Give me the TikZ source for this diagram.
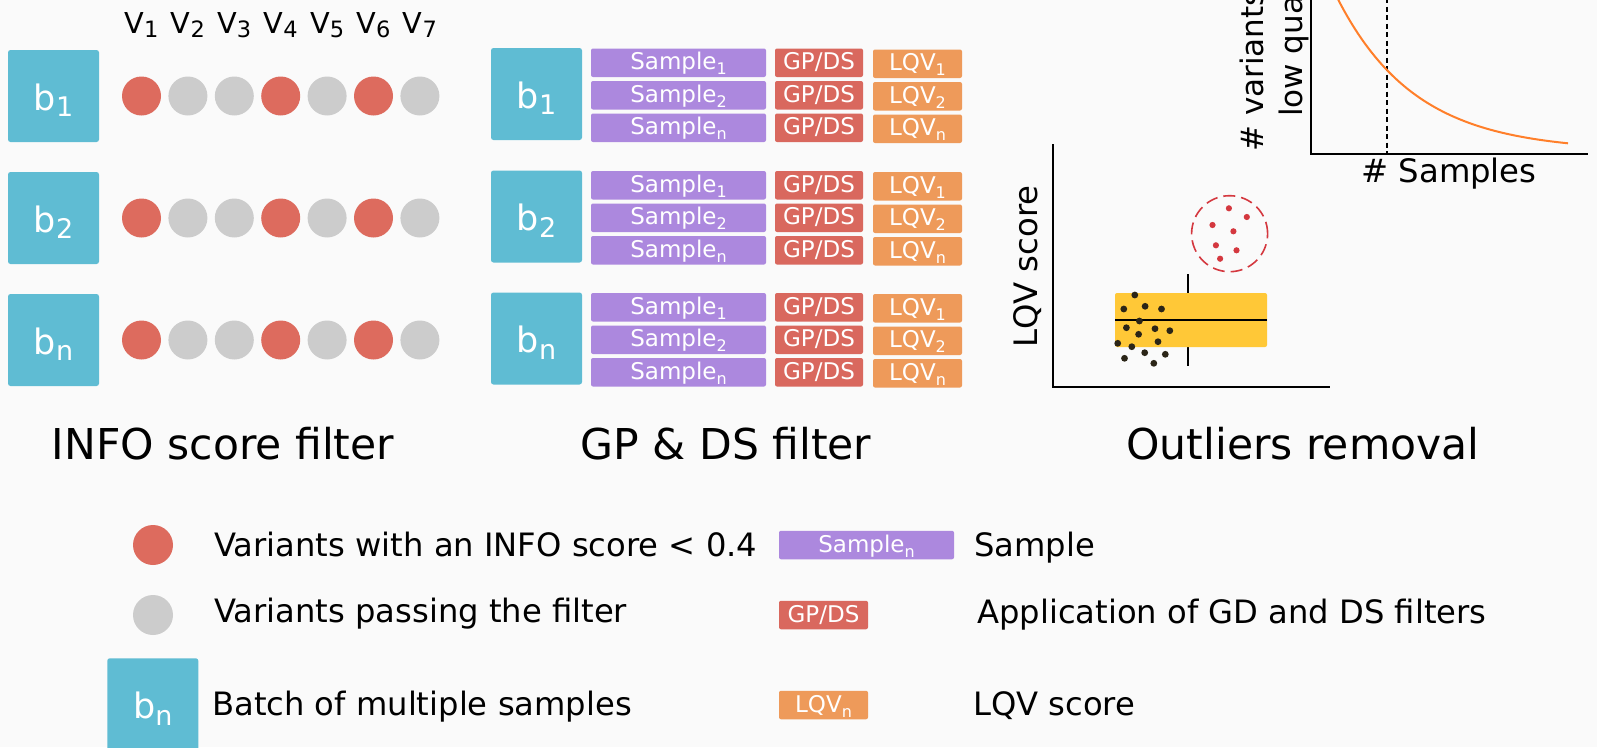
\documentclass[tikz,border=0pt]{standalone}
\usepackage{fontspec}
\setmainfont{DejaVu Sans}
\definecolor{bgcol}{HTML}{FAFAFA}
\definecolor{batchcol}{HTML}{5FBCD3}
\definecolor{redc}{HTML}{DD6B5E}
\definecolor{greyc}{HTML}{CCCCCC}
\definecolor{purp}{HTML}{AC88DE}
\definecolor{gpred}{HTML}{D9685E}
\definecolor{lqvor}{HTML}{EE9A5A}
\definecolor{yel}{HTML}{FFC837}
\definecolor{outred}{HTML}{D4383F}
\definecolor{curveor}{HTML}{FF7F2A}
\definecolor{dotblk}{HTML}{2B2517}
\newcommand\bsub[1]{\raisebox{-6.7pt}{\fontsize{27}{27}\selectfont #1}}
\newcommand\vsub[1]{\raisebox{-4pt}{\fontsize{22.5}{22.5}\selectfont #1}}
\newcommand\ssub[1]{\raisebox{-5pt}{\fontsize{16}{16}\selectfont #1}}
\tikzset{
  batch/.style={fill=batchcol, rounded corners=2.5pt, minimum width=91pt, minimum height=92pt,
    inner sep=0pt, text=white, text height=30pt, text depth=2pt, font=\fontsize{35}{35}\selectfont},
  vdot/.style={circle, minimum size=39pt, inner sep=0pt},
  bar/.style={rounded corners=2pt, minimum height=28.5pt, inner sep=0pt, text=white,
    text height=17pt, text depth=3pt, font=\fontsize{23}{23}\selectfont},
  sampbar/.style={bar, fill=purp, minimum width=175pt},
  gpbar/.style={bar, fill=gpred, minimum width=88pt},
  lqvbar/.style={bar, fill=lqvor, minimum width=89pt},
  vlab/.style={anchor=base, inner sep=0pt, font=\fontsize{28.8}{28.8}\selectfont},
  title/.style={anchor=base, inner sep=0pt, font=\fontsize{42.5}{42.5}\selectfont},
  legtext/.style={anchor=base west, inner sep=0pt, font=\fontsize{32.2}{32.2}\selectfont},
  axlab/.style={inner sep=0pt, font=\fontsize{32.3}{32.3}\selectfont},
  axis/.style={line width=2pt, black},
}
\begin{document}
\begin{tikzpicture}[x=1pt, y=-1pt]
\path[use as bounding box] (0,0) rectangle (1597,747);
\clip (0,0) rectangle (1597,747);
\fill[bgcol] (0,0) rectangle (1597,747);

% ---------- INFO score filter ----------
\foreach \i in {1,...,7}
  \node[vlab] (v\i) at (95.1+46.4*\i, 33.3) {V\vsub{\i}};
\foreach \r/\y in {1/96, 2/218, n/340} {
  \node[batch] (lb\r) at (53.5,\y) {b\bsub{\r}};
  \foreach \i/\c in {1/redc,2/greyc,3/greyc,4/redc,5/greyc,6/redc,7/greyc}
    \node[vdot, fill=\c] (c\r\i) at (95.1+46.4*\i, \y) {};
}
\node[title] (t1) at (223,459.5) {INFO score filter};

% ---------- GP & DS filter ----------
\foreach \r/\g in {1/48.5, 2/171, n/293} {
  \node[batch] (gb\r) at (536.5, \g+45.5) {b\bsub{\r}};
  \foreach \k/\dy in {1/0, 2/32.5, n/65} {
    \node[sampbar] (s\r\k) at (678.5, \g+\dy+14.25) {Sample\ssub{\k}};
    \node[gpbar] (g\r\k) at (819, \g+\dy+14.25) {GP/DS};
    \node[lqvbar] (q\r\k) at (917.5, \g+\dy+15.25) {LQV\ssub{\k}};
  }
}
\node[title] (t2) at (726,459.5) {GP \& DS filter};

% ---------- Outliers removal ----------
% top-right plot
\draw[axis] (1311,-2) -- (1311,154.3) -- (1587.6,154.3);
\draw[line width=2pt, dash pattern=on 5pt off 3.5pt] (1387.3,-2) -- (1387.3,154.3);
\draw[curveor, line width=2pt] plot[domain=1334:1568, samples=100, smooth]
  (\x, {151.3-152*exp(-0.0128*(\x-1338))});
\node[axlab, anchor=base] (xs) at (1449,182) {\# Samples};
\node[axlab, font=\fontsize{31}{31}\selectfont, rotate=90, anchor=base west] (yl1) at (1263,152) {\# variants with};
\node[axlab, font=\fontsize{31}{31}\selectfont, rotate=90, anchor=base west] (yl2) at (1302,117) {low quality};

% LQV plot
\draw[axis] (1052.6,144) -- (1052.6,387) -- (1330,387);
\node[axlab, rotate=90, anchor=base] (lqvy) at (1037,266.5) {LQV score};
\draw[line width=1.5pt] (1188,274) -- (1188,366);
\fill[yel, rounded corners=2pt] (1115,293) rectangle (1267,347);
\draw[line width=2pt] (1115,320) -- (1267,320);
\foreach \p in {(1134.8,295),(1123.8,309),(1145.1,306.3),(1161.5,309),(1139.4,321),
  (1126.4,327.7),(1155,328.7),(1169.8,330.7),(1138.6,334.3),(1158,341.7),(1117.7,343.3),
  (1131.8,346.7),(1144.7,352.7),(1165.3,354.3),(1124.5,358.3),(1153.8,363.3)}
  \fill[dotblk] \p circle[radius=3.4pt];
\draw[outred, line width=1.6pt, dash pattern=on 12pt off 6pt] (1229.6,233.7) circle[radius=38pt];
\foreach \p in {(1228.9,208.3),(1246.8,217),(1212.5,225),(1233.4,231.3),(1215.9,245.3),
  (1236.5,250.3),(1220.1,258.7)}
  \fill[outred] \p circle[radius=3.1pt];
\node[title] (t3) at (1303,459.5) {Outliers removal};

% ---------- Legend ----------
\node[vdot, fill=redc, minimum size=40pt] (lgred) at (153,545) {};
\node[vdot, fill=greyc, minimum size=40pt] (lggrey) at (153,615) {};
\node[batch] (lgb) at (152.8,704.3) {b\bsub{n}};
\node[legtext] (lt1) at (214,556.5) {Variants with an INFO score < 0.4};
\node[legtext] (lt2) at (214,622.5) {Variants passing the filter};
\node[legtext] (lt3) at (212,715) {Batch of multiple samples};
\node[sampbar] (lgs) at (866.5,545) {Sample\ssub{n}};
\node[gpbar, minimum width=89pt] (lgg) at (823.5,615) {GP/DS};
\node[lqvbar] (lgq) at (823.5,705) {LQV\ssub{n}};
\node[legtext] (rt1) at (974,556) {Sample};
\node[legtext] (rt2) at (977,623.5) {Application of GD and DS filters};
\node[legtext] (rt3) at (973,715) {LQV score};
\end{tikzpicture}
\end{document}
